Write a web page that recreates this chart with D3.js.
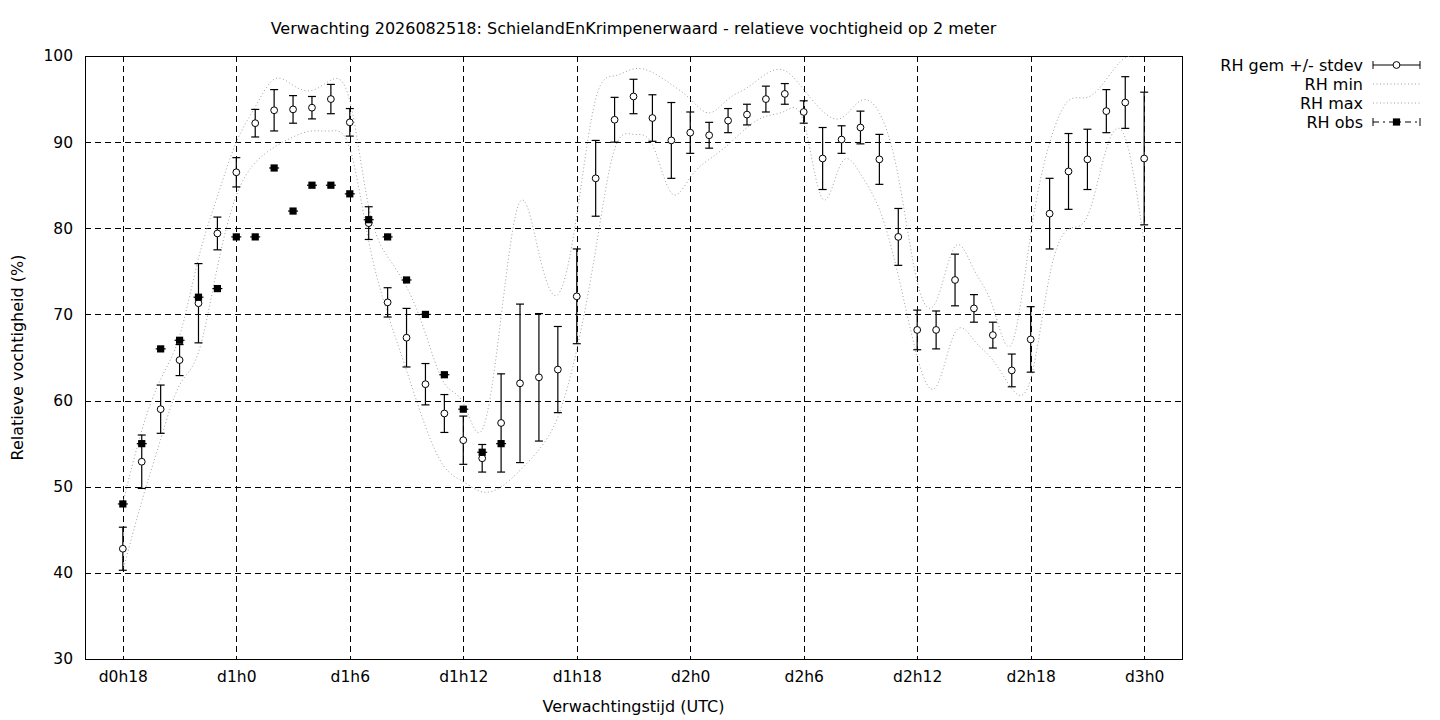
<!DOCTYPE html>
<html>
<head>
<meta charset="utf-8">
<script src="https://cdn.jsdelivr.net/npm/d3@7/dist/d3.min.js"></script>
<style>
  html, body { margin: 0; padding: 0; background: #fff; }
  svg text { font-family: "DejaVu Sans", sans-serif; fill: #000; }
</style>
</head>
<body>
<svg id="chart" width="1440" height="720"></svg>
<script>
// ---- data (hours since forecast start, d0h0) ----
const hours = d3.range(18, 73); // 18..72
const rhMean = [42.8, 52.9, 59.0, 64.7, 71.3, 79.4, 86.5, 92.2, 93.7, 93.8,
  94.0, 95.0, 92.3, 80.6, 71.4, 67.3, 61.9, 58.5, 55.4, 53.3,
  57.4, 62.0, 62.7, 63.6, 72.1, 85.8, 92.6, 95.3, 92.8, 90.2,
  91.1, 90.8, 92.5, 93.2, 95.0, 95.6, 93.5, 88.1, 90.3, 91.7,
  88.0, 79.0, 68.2, 68.2, 74.0, 70.7, 67.6, 63.5, 67.1, 81.7,
  86.6, 88.0, 93.6, 94.6, 88.1];
const rhStdev = [2.5, 3.1, 2.8, 1.8, 4.6, 1.9, 1.7, 1.6, 2.4, 1.6,
  1.3, 1.7, 1.6, 1.9, 1.7, 3.4, 2.4, 2.2, 2.8, 1.6,
  5.7, 9.2, 7.4, 5.0, 5.5, 4.4, 2.6, 2.0, 2.7, 4.4,
  2.4, 1.5, 1.4, 1.2, 1.5, 1.2, 1.3, 3.6, 1.6, 1.9,
  2.9, 3.3, 2.3, 2.2, 3.0, 1.6, 1.5, 1.9, 3.8, 4.1,
  4.4, 3.5, 2.5, 3.0, 7.7];
const rhMin = [40.2, 48.3, 55.5, 61.8, 65.6, 75.5, 83.8, 87.6, 89.4, 90.6,
  91.3, 91.3, 89.3, 78.5, 70.1, 63.5, 57.0, 52.3, 50.6, 49.4,
  50.0, 51.9, 54.3, 58.1, 65.9, 77.5, 89.2, 90.9, 89.7, 84.1,
  85.9, 88.0, 89.7, 91.7, 93.0, 93.6, 92.3, 83.4, 87.6, 86.3,
  82.2, 74.5, 65.1, 61.6, 67.9, 67.0, 64.7, 61.4, 62.5, 74.5,
  79.9, 81.4, 89.2, 90.5, 78.3];
const rhMax = [48.1, 56.5, 62.5, 67.5, 76.5, 83.7, 90.0, 94.1, 97.3, 96.6,
  96.0, 97.2, 94.8, 82.5, 76.7, 73.2, 67.8, 62.0, 59.7, 56.6,
  69.7, 83.1, 77.1, 72.3, 81.5, 95.0, 97.7, 98.5, 98.1, 96.7,
  95.0, 93.4, 95.0, 96.3, 97.9, 98.3, 96.1, 93.6, 92.8, 94.8,
  93.4, 86.0, 73.8, 71.5, 77.9, 75.2, 70.9, 66.6, 79.3, 89.9,
  94.8, 95.2, 97.3, 99.8, 100.0];
const obsHours = d3.range(18, 39); // 18..38
const rhObs = [48, 55, 66, 67, 72, 73, 79, 79, 87, 82, 85, 85, 84, 81, 79, 74, 70, 63, 59, 54, 55];
const xTicks = [18, 24, 30, 36, 42, 48, 54, 60, 66, 72];
const yTicks = [30, 40, 50, 60, 70, 80, 90, 100];
const titleText = "Verwachting 2026082518: SchielandEnKrimpenerwaard - relatieve vochtigheid op 2 meter";
const legendLabels = ["RH gem +/- stdev", "RH min", "RH max", "RH obs"];

// ---- layout ----
const svg = d3.select("#chart");
const L = 85, R = 1182, T = 56, B = 659;
const x = d3.scaleLinear().domain([16, 74]).range([L, R]);
const y = d3.scaleLinear().domain([30, 100]).range([B, T]);
const fmt = h => "d" + Math.floor(h / 24) + "h" + (h % 24);
const FS = 16, TFS = 15.5;

// grid
const grid = svg.append("g").attr("stroke", "#000").attr("stroke-width", 1)
  .attr("stroke-dasharray", "6,4").attr("shape-rendering", "crispEdges");
yTicks.filter(v => v > 30 && v < 100).forEach(v => {
  grid.append("line").attr("x1", L).attr("x2", R).attr("y1", Math.round(y(v)) + 0.5).attr("y2", Math.round(y(v)) + 0.5);
});
xTicks.forEach(h => {
  grid.append("line").attr("y1", T).attr("y2", B).attr("x1", Math.round(x(h)) + 0.5).attr("x2", Math.round(x(h)) + 0.5);
});

// axes via d3
const xAxis = d3.axisBottom(x).tickValues(xTicks).tickFormat(fmt).tickSize(0).tickPadding(12);
const gx = svg.append("g").attr("transform", `translate(0,${B})`).call(xAxis);
gx.select(".domain").remove();
gx.selectAll("text").attr("font-size", TFS).attr("font-family", "DejaVu Sans").attr("fill", "#000");
const yAxis = d3.axisLeft(y).tickValues(yTicks).tickSize(0).tickPadding(12);
const gy = svg.append("g").attr("transform", `translate(${L},0)`).call(yAxis);
gy.select(".domain").remove();
gy.selectAll("text").attr("font-size", TFS).attr("font-family", "DejaVu Sans").attr("fill", "#000");

// border
svg.append("rect").attr("x", L + 0.5).attr("y", T + 0.5).attr("width", R - L).attr("height", B - T)
  .attr("fill", "none").attr("stroke", "#000").attr("stroke-width", 1).attr("shape-rendering", "crispEdges");

// min/max dotted curves
const line = d3.line().x(d => x(d[0])).y(d => y(d[1])).curve(d3.curveNatural);
svg.append("clipPath").attr("id", "pc").append("rect")
  .attr("x", L).attr("y", T).attr("width", R - L).attr("height", B - T);
[rhMin, rhMax].forEach(arr => {
  svg.append("path").attr("clip-path", "url(#pc)")
    .attr("d", line(hours.map((h, i) => [h, arr[i]])))
    .attr("fill", "none").attr("stroke", "#a0a0a0").attr("stroke-width", 1)
    .attr("stroke-dasharray", "1,2.5");
});

// error bars
const cap = 4;
const eb = svg.append("g").attr("stroke", "#000").attr("stroke-width", 1.2);
hours.forEach((h, i) => {
  const cx = x(h), lo = y(rhMean[i] - rhStdev[i]), hi = y(rhMean[i] + rhStdev[i]);
  eb.append("line").attr("x1", cx).attr("x2", cx).attr("y1", lo).attr("y2", hi);
  eb.append("line").attr("x1", cx - cap).attr("x2", cx + cap).attr("y1", lo).attr("y2", lo);
  eb.append("line").attr("x1", cx - cap).attr("x2", cx + cap).attr("y1", hi).attr("y2", hi);
});
svg.append("g").selectAll("circle").data(hours).join("circle")
  .attr("cx", h => x(h)).attr("cy", (h, i) => y(rhMean[i])).attr("r", 3.4)
  .attr("fill", "#fff").attr("stroke", "#000").attr("stroke-width", 1);

// observations
const og = svg.append("g");
obsHours.forEach((h, i) => {
  const cx = x(h), cy = y(rhObs[i]);
  og.append("line").attr("x1", cx - 5).attr("x2", cx + 5).attr("y1", cy).attr("y2", cy)
    .attr("stroke", "#000").attr("stroke-width", 1.2);
  og.append("rect").attr("x", cx - 3.6).attr("y", cy - 3.6).attr("width", 7.2).attr("height", 7.2).attr("fill", "#000");
});

// title and axis labels
svg.append("text").attr("x", (L + R) / 2).attr("y", 34).attr("text-anchor", "middle")
  .attr("font-size", FS).text(titleText);
svg.append("text").attr("x", (L + R) / 2).attr("y", 712).attr("text-anchor", "middle")
  .attr("font-size", FS).text("Verwachtingstijd (UTC)");
svg.append("text").attr("transform", `translate(23,${(T + B) / 2}) rotate(-90)`).attr("text-anchor", "middle")
  .attr("font-size", FS).text("Relatieve vochtigheid (%)");

// legend
const lgX = 1363, s1 = 1373, s2 = 1420, rowY = [65, 84, 103, 122];
const lg = svg.append("g");
legendLabels.forEach((t, i) => {
  lg.append("text").attr("x", lgX).attr("y", rowY[i]).attr("dy", "0.36em")
    .attr("text-anchor", "end").attr("font-size", FS).text(t);
});
// row 1
lg.append("line").attr("x1", s1).attr("x2", s2).attr("y1", rowY[0]).attr("y2", rowY[0]).attr("stroke", "#000");
[s1, s2].forEach(sx => lg.append("line").attr("x1", sx).attr("x2", sx).attr("y1", rowY[0] - cap).attr("y2", rowY[0] + cap).attr("stroke", "#000"));
lg.append("circle").attr("cx", (s1 + s2) / 2).attr("cy", rowY[0]).attr("r", 3.4).attr("fill", "#fff").attr("stroke", "#000");
// rows 2,3
[1, 2].forEach(i => lg.append("line").attr("x1", s1).attr("x2", s2).attr("y1", rowY[i]).attr("y2", rowY[i])
  .attr("stroke", "#a0a0a0").attr("stroke-dasharray", "1,2.5"));
// row 4
lg.append("line").attr("x1", s1).attr("x2", s2).attr("y1", rowY[3]).attr("y2", rowY[3]).attr("stroke", "#000")
  .attr("stroke-dasharray", "6,4,2,4");
[s1, s2].forEach(sx => lg.append("line").attr("x1", sx).attr("x2", sx).attr("y1", rowY[3] - cap).attr("y2", rowY[3] + cap).attr("stroke", "#000"));
lg.append("rect").attr("x", (s1 + s2) / 2 - 3.6).attr("y", rowY[3] - 3.6).attr("width", 7.2).attr("height", 7.2).attr("fill", "#000");
</script>
</body>
</html>
